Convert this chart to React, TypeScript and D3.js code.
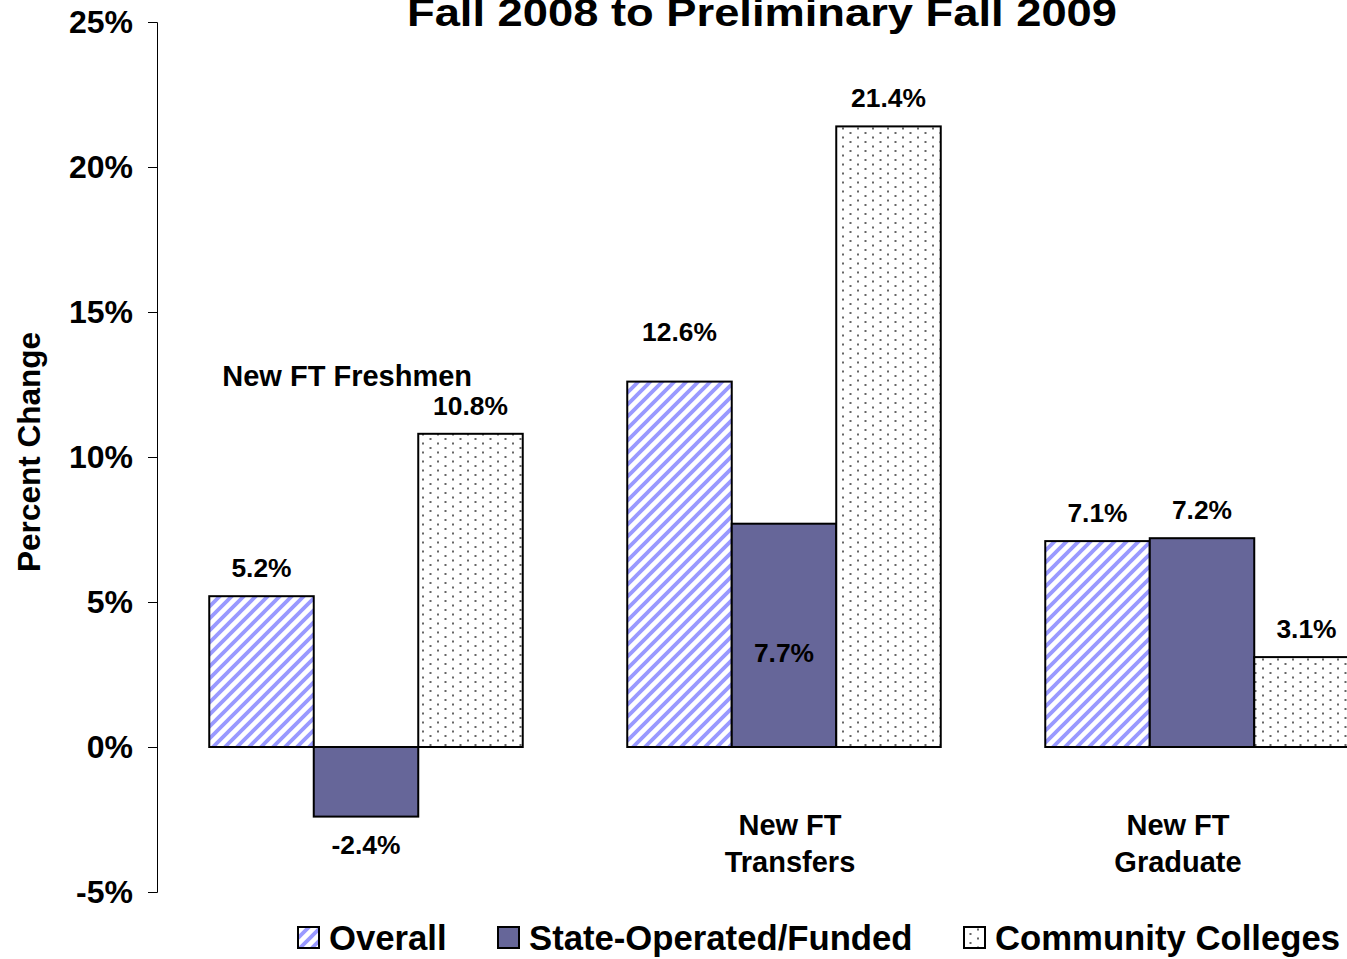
import React, { useEffect, useRef } from 'react';
import * as d3 from 'd3';

const categories = ['New FT Freshmen', 'New FT Transfers', 'New FT Graduate'];
const seriesNames = ['Overall', 'State-Operated/Funded', 'Community Colleges'];
const overall = [5.2, 12.6, 7.1];
const stateFunded = [-2.4, 7.7, 7.2];
const communityColleges = [10.8, 21.4, 3.1];
// label overrides (in % units) where the original moved a label
const overallLabelAt = [null, 14.0, null];
const stateLabelAt = [null, 2.93, null];
const yTicks = [-5, 0, 5, 10, 15, 20, 25];

const W = 1347;
const H = 959;

const App: React.FC = () => {
  const ref = useRef<SVGSVGElement | null>(null);

  useEffect(() => {
    if (!ref.current) return;
    const svg = d3.select(ref.current);
    svg.selectAll('*').remove();

    const font = 'Liberation Sans, Arial, Helvetica, sans-serif';
    const defs = svg.append('defs');

    const p = 12;
    const stripes = defs
      .append('pattern')
      .attr('id', 'stripes')
      .attr('patternUnits', 'userSpaceOnUse')
      .attr('width', p)
      .attr('height', p);
    stripes.append('rect').attr('width', p).attr('height', p).attr('fill', '#fff');
    stripes
      .append('path')
      .attr('d', `M-3,3 L3,-3 M0,${p} L${p},0 M${p - 3},${p + 3} L${p + 3},${p - 3}`)
      .attr('stroke', '#9999ff')
      .attr('stroke-width', 3.8);

    const dots = defs
      .append('pattern')
      .attr('id', 'dots')
      .attr('patternUnits', 'userSpaceOnUse')
      .attr('width', 15)
      .attr('height', 9);
    dots.append('rect').attr('width', 15).attr('height', 9).attr('fill', '#fff');
    dots.append('rect').attr('x', 2).attr('y', 1.5).attr('width', 2).attr('height', 2).attr('fill', '#666');
    dots.append('rect').attr('x', 9.5).attr('y', 6).attr('width', 2).attr('height', 2).attr('fill', '#666');

    const fills = ['url(#stripes)', '#666699', 'url(#dots)'];
    const series = [overall, stateFunded, communityColleges];
    const labelAt = [overallLabelAt, stateLabelAt, [null, null, null]];

    const y = d3.scaleLinear().domain([-5, 25]).range([892, 22]);
    const x0 = d3
      .scaleBand<string>()
      .domain(categories)
      .range([157, 157 + 3 * 418])
      .paddingInner(0.25)
      .paddingOuter(0.125);
    const x1 = d3
      .scaleBand<number>()
      .domain([0, 1, 2])
      .range([0, x0.bandwidth()]);

    // title (clipped at top, as in the original)
    svg
      .append('text')
      .attr('x', 762)
      .attr('y', 26)
      .attr('text-anchor', 'middle')
      .attr('font-family', font)
      .attr('font-weight', 'bold')
      .attr('font-size', 38)
      .attr('textLength', 710)
      .attr('lengthAdjust', 'spacingAndGlyphs')
      .text('Fall 2008 to Preliminary Fall 2009');

    // y axis
    const axis = svg
      .append('g')
      .attr('transform', 'translate(157,0)')
      .call(
        d3
          .axisLeft(y)
          .tickValues(yTicks)
          .tickSize(9)
          .tickPadding(15)
          .tickFormat((d) => `${d}%`)
      );
    axis.select('.domain').attr('stroke', '#000').attr('stroke-width', 1);
    axis.selectAll('.tick line').attr('stroke', '#000');
    axis
      .selectAll('.tick text')
      .attr('font-family', font)
      .attr('font-weight', 'bold')
      .attr('font-size', 32)
      .attr('fill', '#000');

    svg
      .append('text')
      .attr('transform', 'translate(40,452) rotate(-90)')
      .attr('text-anchor', 'middle')
      .attr('font-family', font)
      .attr('font-weight', 'bold')
      .attr('font-size', 31.5)
      .text('Percent Change');

    // bars
    series.forEach((vals, s) => {
      const g = svg.append('g');
      g.selectAll('rect')
        .data(vals)
        .join('rect')
        .attr('x', (_, i) => x0(categories[i])! + x1(s)!)
        .attr('y', (d) => y(Math.max(0, d)))
        .attr('width', x1.bandwidth())
        .attr('height', (d) => Math.abs(y(d) - y(0)))
        .attr('fill', fills[s])
        .attr('stroke', '#000')
        .attr('stroke-width', 2);

      g.selectAll('text')
        .data(vals)
        .join('text')
        .attr('x', (_, i) => x0(categories[i])! + x1(s)! + x1.bandwidth() / 2)
        .attr('y', (d, i) => {
          const o = labelAt[s][i];
          if (o != null) return y(o);
          return d >= 0 ? y(d) - 19 : y(d) + 37;
        })
        .attr('text-anchor', 'middle')
        .attr('font-family', font)
        .attr('font-weight', 'bold')
        .attr('font-size', 26.4)
        .text((d) => `${d.toFixed(1)}%`);
    });

    // category labels
    const catLabel = (lines: string[], cx: number, baseY: number) => {
      const t = svg
        .append('text')
        .attr('text-anchor', 'middle')
        .attr('font-family', font)
        .attr('font-weight', 'bold')
        .attr('font-size', 29);
      lines.forEach((l, k) => {
        t.append('tspan').attr('x', cx).attr('y', baseY + k * 37).text(l);
      });
    };
    catLabel([categories[0]], x0(categories[0])! + x0.bandwidth() * 0.44, 386);
    catLabel(['New FT', 'Transfers'], x0(categories[1])! + x0.bandwidth() / 2 + 6, 835);
    catLabel(['New FT', 'Graduate'], x0(categories[2])! + x0.bandwidth() / 2 - 24, 835);

    // legend
    const legendX = [298, 498, 964];
    const lg = svg.append('g');
    seriesNames.forEach((name, s) => {
      lg.append('rect')
        .attr('x', legendX[s])
        .attr('y', 927)
        .attr('width', 21)
        .attr('height', 21)
        .attr('fill', fills[s])
        .attr('stroke', '#000')
        .attr('stroke-width', 2);
      lg.append('text')
        .attr('x', legendX[s] + 31)
        .attr('y', 950)
        .attr('font-family', font)
        .attr('font-weight', 'bold')
        .attr('font-size', 34.7)
        .text(name);
    });
  }, []);

  return (
    <svg
      ref={ref}
      width={W}
      height={H}
      style={{ position: 'absolute', left: 0, top: 0, background: '#fff' }}
    />
  );
};

export default App;
